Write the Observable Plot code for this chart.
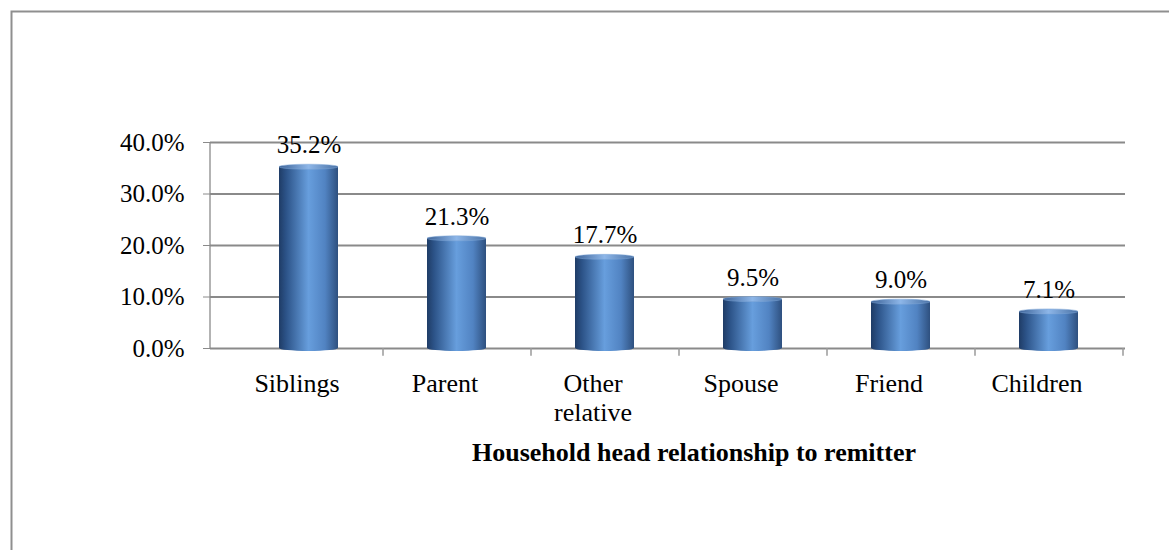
<!DOCTYPE html>
<html>
<head>
<meta charset="utf-8">
<script src="https://cdn.jsdelivr.net/npm/d3@7"></script>
<script src="https://cdn.jsdelivr.net/npm/@observablehq/plot@0.6"></script>
<style>
  html, body { margin: 0; padding: 0; background: #fff; }
  #chart { width: 1169px; height: 550px; }
</style>
</head>
<body>
<div id="chart"></div>
<script>
const categories = ["Siblings", "Parent", "Other\nrelative", "Spouse", "Friend", "Children"];
const values = [35.2, 21.3, 17.7, 9.5, 9.0, 7.1];
const yTicks = [0, 10, 20, 30, 40];
const axisTitle = "Household head relationship to remitter";

const data = categories.map((c, i) => ({cat: c, value: values[i]}));
const SVGNS = "http://www.w3.org/2000/svg";
const FONT = "'Liberation Serif', 'Times New Roman', serif";

function el(name, attrs) {
  const e = document.createElementNS(SVGNS, name);
  for (const k in attrs) e.setAttribute(k, attrs[k]);
  return e;
}

// defs (gradients) + outer frame + left axis line
function decorations(index, scales, values, dims) {
  const g = el("g", {});
  const defs = el("defs", {});
  const grad = el("linearGradient", {id: "cyl", x1: "0", y1: "0", x2: "1", y2: "0"});
  [["0%", "#1f3c66"], ["12%", "#2c5388"], ["50%", "#679edd"], ["78%", "#5183c2"], ["100%", "#2e507f"]]
    .forEach(([o, c]) => grad.appendChild(el("stop", {offset: o, "stop-color": c})));
  defs.appendChild(grad);
  const top = el("linearGradient", {id: "cyltop", x1: "0", y1: "0", x2: "1", y2: "0"});
  [["0%", "#3d6398"], ["50%", "#8db6e8"], ["100%", "#4a72a6"]]
    .forEach(([o, c]) => top.appendChild(el("stop", {offset: o, "stop-color": c})));
  defs.appendChild(top);
  g.appendChild(defs);
  g.appendChild(el("path", {d: `M11.5,${dims.height}V11.5H${dims.width}`, fill: "none", stroke: "#8f8f8f", "stroke-width": 2}));
  const y0 = scales.y(0), y1 = scales.y(40);
  g.appendChild(el("line", {x1: dims.marginLeft, x2: dims.marginLeft, y1: y0, y2: y1, stroke: "#9a9a9a", "stroke-width": 1.5}));
  return g;
}

const chart = Plot.plot({
  width: 1169,
  height: 550,
  marginLeft: 210,
  marginRight: 44,
  marginTop: 142,
  marginBottom: 202,
  style: {fontFamily: FONT, fontSize: "25px", color: "#000", background: "transparent"},
  x: {domain: categories, paddingInner: 0.6, paddingOuter: 0.3, insetLeft: 25, insetRight: 2, label: null},
  y: {domain: [0, 40], label: null},
  marks: [
    decorations,
    Plot.ruleY(yTicks, {stroke: "#8a8a8a", strokeWidth: 2}),
    Plot.axisY({ticks: yTicks, tickFormat: d => d.toFixed(1) + "%", tickSize: 7, tickPadding: 19, stroke: "#8a8a8a", fill: "#000", fontSize: 25, label: null}),
    Plot.ruleX(categories, {x: d => d, y1: 0, y2: -1.5, dx: 74, stroke: "#9a9a9a", strokeWidth: 1.5, clip: false}),
    Plot.axisX({tickSize: 0, tickPadding: 24, fontSize: 26, fill: "#000", dx: -12, lineHeight: 1.08, label: null}),
    Plot.barY(data, {x: "cat", y1: 0, y2: 0, insetTop: -3, insetBottom: -3, rx: 29, ry: 3, fill: "url(#cyl)"}),
    Plot.barY(data, {x: "cat", y: "value", fill: "url(#cyl)"}),
    Plot.barY(data, {x: "cat", y1: "value", y2: "value", insetTop: -2.5, insetBottom: -2.5, rx: 29, ry: 2.5, fill: "url(#cyltop)", stroke: "#7fa6d6", strokeWidth: 0.5}),
    Plot.text(data, {x: "cat", y: "value", text: d => d.value.toFixed(1) + "%", dy: -14, lineAnchor: "bottom", fontSize: 25, fill: "#000"}),
    Plot.text([axisTitle], {frameAnchor: "bottom", text: d => d, dy: 104, dx: 26, lineAnchor: "middle", fontSize: 26, fontWeight: "bold", fill: "#000"})
  ]
});
document.getElementById("chart").appendChild(chart);
</script>
</body>
</html>
